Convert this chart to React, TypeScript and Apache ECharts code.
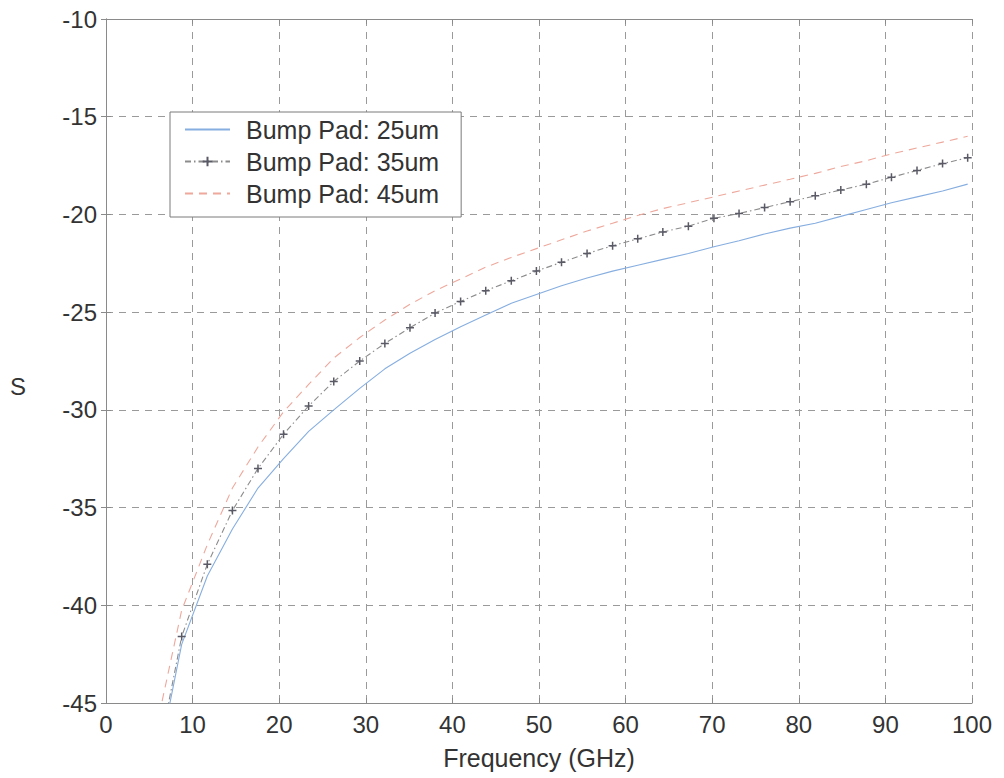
import React, { useEffect, useRef } from "react";
import * as echarts from "echarts";

// Frequency sample points (GHz)
const freq = [
  5.8, 8.74, 11.7, 14.6, 17.55, 20.5, 23.4, 26.3, 29.3, 32.2, 35.1, 38.0,
  40.95, 43.85, 46.8, 49.7, 52.6, 55.55, 58.5, 61.4, 64.3, 67.25, 70.2, 73.1,
  76.05, 79.0, 81.9, 84.85, 87.8, 90.7, 93.65, 96.6, 99.5,
];

const s25 = [
  -48.5, -42.0, -38.5, -36.1, -34.0, -32.5, -31.1, -30.0, -28.9, -27.9, -27.1,
  -26.4, -25.75, -25.15, -24.55, -24.1, -23.65, -23.25, -22.9, -22.6, -22.3,
  -22.0, -21.65, -21.35, -21.0, -20.7, -20.45, -20.1, -19.75, -19.4, -19.1,
  -18.8, -18.45,
];

const s35 = [
  -48.2, -41.6, -37.9, -35.15, -33.0, -31.25, -29.8, -28.55, -27.5, -26.6,
  -25.8, -25.05, -24.45, -23.9, -23.4, -22.9, -22.45, -22.0, -21.6, -21.25,
  -20.9, -20.6, -20.2, -19.95, -19.65, -19.35, -19.05, -18.75, -18.45, -18.1,
  -17.75, -17.4, -17.1,
];

const s45 = [
  -46.3, -40.25, -36.9, -34.0, -31.9, -30.1, -28.7, -27.35, -26.3, -25.4,
  -24.6, -23.9, -23.3, -22.7, -22.2, -21.75, -21.3, -20.85, -20.45, -20.05,
  -19.7, -19.4, -19.1, -18.8, -18.5, -18.2, -17.9, -17.55, -17.25, -16.9,
  -16.6, -16.3, -16.0,
];

const seriesNames = ["Bump Pad: 25um", "Bump Pad: 35um", "Bump Pad: 45um"];
const xTickLabels = ["0", "10", "20", "30", "40", "50", "60", "70", "80", "90", "100"];
const yTickLabels = ["-45", "-40", "-35", "-30", "-25", "-20", "-15", "-10"];

const FONT = "'Liberation Sans', Arial, sans-serif";
const CLEAR = "rgba(0,0,0,0)";

export default function App() {
  const ref = useRef<HTMLDivElement>(null);

  useEffect(() => {
    if (!ref.current) return;
    const chart = echarts.init(ref.current, undefined, { renderer: "svg" });
    const pairs = (ys: number[]) => freq.map((f, i) => [f, ys[i]]);
    const gridLine = {
      show: true,
      lineStyle: { color: "#9a9a9a", type: [7, 6] as any, width: 1 },
    };
    const axisLine = { show: true, lineStyle: { color: "#8a8a8a", width: 1 } };
    const tick = { show: true, inside: true, length: 5, lineStyle: { color: "#8a8a8a" } };

    chart.setOption({
      animation: false,
      backgroundColor: "#ffffff",
      grid: { left: 106, right: 32, top: 19, bottom: 75, containLabel: false },
      legend: {
        orient: "vertical",
        left: 170,
        top: 112,
        padding: [5, 22, 11, 14],
        itemWidth: 45,
        itemHeight: 12,
        itemGap: 7,
        backgroundColor: "#ffffff",
        borderColor: "#7a7a7a",
        borderWidth: 1,
        borderRadius: 0,
        data: seriesNames,
        textStyle: {
          fontFamily: FONT,
          fontSize: 25,
          color: "#333333",
          padding: [0, 0, 0, 11],
        },
      },
      graphic: [
        {
          type: "text",
          left: 10,
          top: 374,
          style: { text: "S", fontFamily: FONT, fontSize: 24, fill: "#333333" },
        },
      ],
      xAxis: [
        {
          type: "value",
          min: 0,
          max: 100,
          interval: 10,
          name: "Frequency (GHz)",
          nameLocation: "middle",
          nameGap: 42,
          nameTextStyle: { fontFamily: FONT, fontSize: 25, color: "#333333" },
          axisLine,
          axisTick: tick,
          splitLine: gridLine,
          axisLabel: {
            fontFamily: FONT,
            fontSize: 24,
            color: "#333333",
            margin: 9,
            formatter: (v: number) => xTickLabels[Math.round(v / 10)] ?? String(v),
          },
        },
        {
          type: "value",
          position: "top",
          min: 0,
          max: 100,
          interval: 10,
          axisLine,
          axisTick: tick,
          splitLine: { show: false },
          axisLabel: { show: false },
        },
      ],
      yAxis: [
        {
          type: "value",
          min: -45,
          max: -10,
          interval: 5,
          axisLine,
          axisTick: tick,
          splitLine: gridLine,
          axisLabel: {
            fontFamily: FONT,
            fontSize: 24,
            color: "#333333",
            margin: 9,
            formatter: (v: number) => yTickLabels[Math.round((v + 45) / 5)] ?? String(v),
          },
        },
        {
          type: "value",
          position: "right",
          min: -45,
          max: -10,
          interval: 5,
          axisLine,
          axisTick: tick,
          splitLine: { show: false },
          axisLabel: { show: false },
        },
      ],
      series: [
        {
          name: seriesNames[0],
          type: "line",
          data: pairs(s25),
          showSymbol: false,
          symbol: "circle",
          clip: true,
          lineStyle: { color: "#86aee0", width: 1.1, type: "solid" },
          itemStyle: { color: CLEAR, borderColor: CLEAR, borderWidth: 0 },
        },
        {
          name: seriesNames[1],
          type: "line",
          data: pairs(s35),
          symbol: "path://M4,0L4,8M0,4L8,4",
          symbolSize: 8,
          clip: true,
          lineStyle: { color: "#8c8c8c", width: 1.1, type: [6, 3, 1.5, 3] as any },
          itemStyle: { color: "#5a5a66", borderColor: "#5a5a66", borderWidth: 1.5 },
        },
        {
          name: seriesNames[2],
          type: "line",
          data: pairs(s45),
          showSymbol: false,
          symbol: "circle",
          clip: true,
          lineStyle: { color: "#eea89c", width: 1.1, type: [8, 6] as any },
          itemStyle: { color: CLEAR, borderColor: CLEAR, borderWidth: 0 },
        },
      ],
    });
    return () => chart.dispose();
  }, []);

  return (
    <div
      ref={ref}
      style={{ position: "fixed", left: 0, top: 0, width: 1004, height: 778, background: "#fff" }}
    />
  );
}
